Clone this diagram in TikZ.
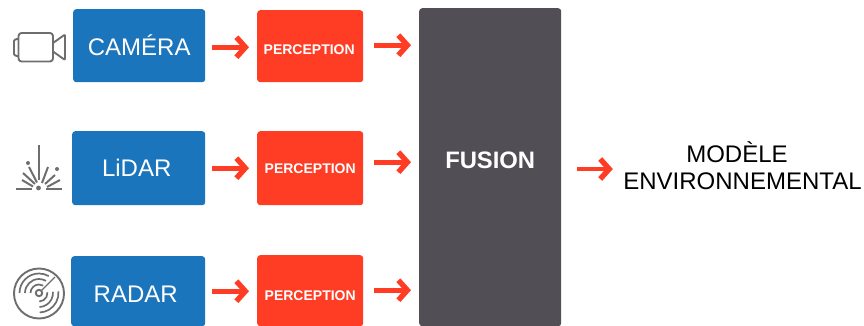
\documentclass[tikz,border=0pt]{standalone}
\usepackage{fontspec}
\setmainfont{Liberation Sans}
\usetikzlibrary{arrows.meta}
\definecolor{bluebox}{HTML}{1B75BC}
\definecolor{redbox}{HTML}{FF3D25}
\definecolor{darkbox}{HTML}{514F55}
\definecolor{icongray}{HTML}{6E6E6E}
\newcommand{\placed}[2]{\raisebox{#1}[0pt][0pt]{#2}}
\tikzset{
  x=1pt,y=-1pt,
  boxbase/.style={anchor=north west,rounded corners=3pt,inner sep=0pt,align=center,text=white},
  sensor/.style={boxbase,fill=bluebox,font=\fontsize{24}{26}\selectfont},
  percep/.style={boxbase,fill=redbox,minimum width=106pt,font=\bfseries\fontsize{14}{15}\selectfont},
  fusionbox/.style={boxbase,fill=darkbox,minimum width=142pt,minimum height=318pt,font=\bfseries\fontsize{23.8}{25}\selectfont},
  flow/.style={draw=redbox,line width=4.8pt,-{Straight Barb[length=9pt,width=20pt,line width=5.4pt]}},
  icon/.style={draw=icongray,line width=1.9pt,line join=round,fill=none},
  ray/.style={draw=icongray,line width=2pt},
  spot/.style={fill=icongray,draw=none}
}
\begin{document}
\begin{tikzpicture}
\useasboundingbox (0,0) rectangle (864,326);
% boxes
\node[sensor,minimum width=132pt,minimum height=73pt] (cam) at (73,9) {\placed{-9.5pt}{CAMÉRA}};
\node[sensor,minimum width=133pt,minimum height=74pt] (lid) at (72,131) {\placed{-8.6pt}{\hspace*{-4pt}LiDAR}};
\node[sensor,minimum width=134pt,minimum height=70pt] (rad) at (71,256) {\placed{-11.5pt}{\hspace*{-5pt}RADAR}};
\node[percep,minimum height=72pt] (p1) at (257,10) {\placed{-8pt}{\hspace*{-2pt}PERCEPTION}};
\node[percep,minimum height=74pt] (p2) at (257,131) {\placed{-5pt}{PERCEPTION}};
\node[percep,minimum height=71pt] (p3) at (257,255) {\placed{-9.5pt}{PERCEPTION}};
\node[fusionbox] (fus) at (419,8) {\placed{-1.5pt}{FUSION}};
\node[anchor=center,align=center,font=\fontsize{24}{27}\selectfont] (env) at (742.5,166) {MODÈLE\hspace*{11pt}\\ENVIRONNEMENTAL};
% connectors
\draw[flow,shorten <=7pt,shorten >=8pt] ([yshift=-1.5pt]cam.east) -- ([yshift=-1pt]p1.west);
\draw[flow,shorten <=7pt,shorten >=8pt] (lid.east) -- (p2.west);
\draw[flow,shorten <=7pt,shorten >=8pt] (rad.east) -- ([yshift=-0.5pt]p3.west);
\draw[flow,shorten <=11pt,shorten >=8pt] ([yshift=1pt]p1.east) -- ([yshift=1pt]p1.east -| fus.west);
\draw[flow,shorten <=11pt,shorten >=8pt] ([yshift=6pt]p2.east) -- ([yshift=6pt]p2.east -| fus.west);
\draw[flow,shorten <=11pt,shorten >=8pt] ([yshift=0.5pt]p3.east) -- ([yshift=0.5pt]p3.east -| fus.west);
\draw[flow,shorten <=16pt,shorten >=7pt] ([yshift=-3pt]fus.east |- env.center) -- ([yshift=-3pt]env.west);
% camera icon
\draw[icon,rounded corners=3pt] (18.5,33) rectangle (53,61.5);
\draw[icon,rounded corners=1pt] (18.5,38.5) -- (14,40) -- (14,55) -- (18.5,56.5);
\draw[icon,rounded corners=1pt] (53,43) -- (65,34.5) -- (65,60) -- (53,51.5);
% lidar icon
\draw[ray] (38.5,145) -- (38.5,180);
\draw[ray] (16,189) -- (32,189);
\draw[ray] (22,180) -- (33,186.5);
\draw[ray] (23,173) -- (35,184);
\draw[ray] (29,167) -- (37,182.5);
\draw[ray] (48,167) -- (42,183);
\draw[ray] (55,175) -- (45,184);
\draw[ray] (60,180) -- (47,187);
\draw[ray] (46,189) -- (62,189);
\fill[spot] (28,163) circle (2);
\fill[spot] (57,169) circle (2);
\fill[spot] (38.5,188) circle (2.4);
% radar icon
\draw[icon] (39,293.5) circle (25);
\begin{scope}[shift={(39,293)},x=1pt,y=1pt]
\draw[icon] (0,0) circle (3.2);
\draw[icon,line width=1.2pt] (2.5,2.5) -- (16,16);
\foreach \r in {8.5,14,19.5}{
  \draw[icon,line width=1.7pt] (180:\r) arc[start angle=180,end angle=60,radius=\r];
  \draw[icon,line width=1.7pt] (-88:\r) arc[start angle=-88,end angle=5,radius=\r];
}
\end{scope}
\end{tikzpicture}
\end{document}
